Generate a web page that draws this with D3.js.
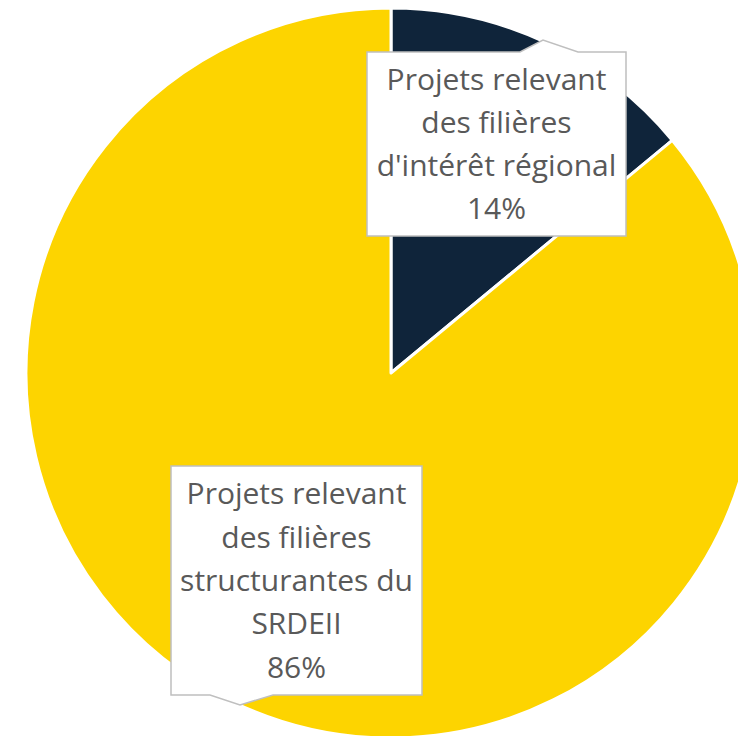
<!DOCTYPE html>
<html><head><meta charset="utf-8">
<script src="https://cdn.jsdelivr.net/npm/d3@7"></script>
<style>html,body{margin:0;padding:0;background:#fff;overflow:hidden}</style>
</head><body>
<svg id="c" width="738" height="736"></svg>
<script>
const categories = ["Projets relevant des filières d'intérêt régional", "Projets relevant des filières structurantes du SRDEII"];
const values = [14, 86];
const labelLines = [
  ["Projets relevant", "des filières", "d'intérêt régional", "14%"],
  ["Projets relevant", "des filières", "structurantes du", "SRDEII", "86%"]
];
const colors = ["#0F243A", "#FDD400"];

const svg = d3.select("#c");
const cx = 391, cy = 373, R = 365;
const g = svg.append("g").attr("transform", `translate(${cx},${cy})`);
const pie = d3.pie().sort(null).value(d => d)(values);
const arc = d3.arc().innerRadius(0).outerRadius(R);
g.selectAll("path.slice").data(pie).join("path")
  .attr("d", arc).attr("fill", (d, i) => colors[i])
  .attr("stroke", "#fff").attr("stroke-width", 3).attr("stroke-linejoin", "round");

// callouts
const boxes = [
  {x: 367, y: 52, w: 259, h: 184, ptr: "top", px: [520, 543, 578], pd: 12},
  {x: 171, y: 466, w: 251, h: 229, ptr: "bottom", px: [210, 240, 273], pd: 10}
];
const lh = 43.3;
boxes.forEach((b, i) => {
  let p;
  if (b.ptr === "top") {
    p = `M${b.x},${b.y} L${b.px[0]},${b.y} L${b.px[1]},${b.y - b.pd} L${b.px[2]},${b.y} L${b.x + b.w},${b.y} L${b.x + b.w},${b.y + b.h} L${b.x},${b.y + b.h} Z`;
  } else {
    p = `M${b.x},${b.y} L${b.x + b.w},${b.y} L${b.x + b.w},${b.y + b.h} L${b.px[2]},${b.y + b.h} L${b.px[1]},${b.y + b.h + b.pd} L${b.px[0]},${b.y + b.h} L${b.x},${b.y + b.h} Z`;
  }
  svg.append("path").attr("d", p).attr("fill", "#fff").attr("stroke", "#BFBFBF").attr("stroke-width", 1.5);
  const lines = labelLines[i];
  const mid = b.y + b.h / 2;
  const t = svg.append("text").attr("text-anchor", "middle")
    .attr("font-family", "'Open Sans', sans-serif").attr("font-size", 30).attr("fill", "#595959");
  lines.forEach((ln, k) => {
    t.append("tspan").attr("x", b.x + b.w / 2)
      .attr("y", mid + (k - (lines.length - 1) / 2) * lh)
      .attr("dy", "0.35em").text(ln);
  });
});
</script>
</body></html>
